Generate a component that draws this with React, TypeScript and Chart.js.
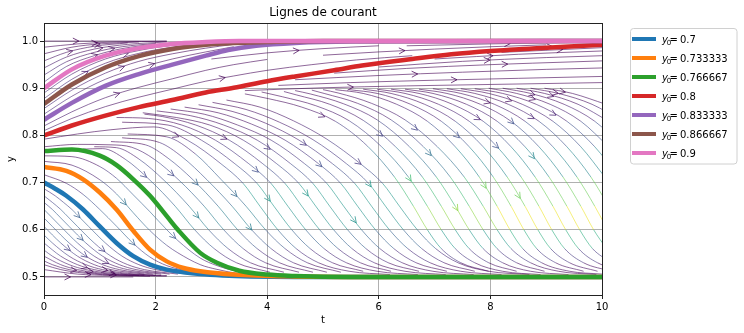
import React, { useEffect, useRef } from "react";
import { Chart, registerables } from "chart.js";

Chart.register(...registerables);

// ---------- axes / labels ----------
const xTicks = [0, 2, 4, 6, 8, 10];
const yTicks = [0.5, 0.6, 0.7, 0.8, 0.9, 1.0];
const xRange = [0, 10];
const yRange = [0.4617, 1.0383];
const titleText = "Lignes de courant";
const xLabel = "t";
const yLabel = "y";

// ---------- solution curves ----------
const initialValues = ["0.7", "0.733333", "0.766667", "0.8", "0.833333", "0.866667", "0.9"];
const curveColors = ["#1f77b4", "#ff7f0e", "#2ca02c", "#d62728", "#9467bd", "#8c564b", "#e377c2"];

const tBlue = [0, 0.2, 0.4, 0.7, 1.0, 1.3, 1.6, 1.9, 2.2, 2.5, 2.8, 3.2, 3.7, 4.5, 6, 10];
const yBlue = [0.7, 0.687, 0.672, 0.643, 0.607, 0.572, 0.544, 0.526, 0.5155, 0.51, 0.506, 0.503, 0.501, 0.5, 0.5, 0.5];
const tOrange = [0, 0.4, 0.7, 1.0, 1.3, 1.6, 1.9, 2.2, 2.5, 2.8, 3.4, 4.5, 6, 10];
const yOrange = [0.7333, 0.725, 0.707, 0.679, 0.643, 0.598, 0.558, 0.533, 0.519, 0.512, 0.505, 0.501, 0.5, 0.5];
const tGreen = [0, 0.5, 1.0, 1.3, 1.6, 1.9, 2.2, 2.4, 2.8, 3.1, 3.5, 4.0, 4.5, 5.5, 10];
const yGreen = [0.7667, 0.77, 0.757, 0.737, 0.707, 0.672, 0.629, 0.6, 0.551, 0.53, 0.513, 0.505, 0.502, 0.5, 0.5];
const tRed = [0, 0.5, 1.1, 1.7, 2.3, 2.9, 3.4, 4.0, 4.5, 5.2, 5.7, 6.6, 7.3, 8.0, 9.0, 10];
const yRed = [0.8, 0.821, 0.842, 0.86, 0.875, 0.891, 0.901, 0.915, 0.925, 0.938, 0.948, 0.962, 0.972, 0.979, 0.986, 0.992];
const tPurple = [0, 0.5, 1.1, 1.7, 2.3, 2.9, 3.3, 3.8, 4.5, 5.5, 10];
const yPurple = [0.8333, 0.869, 0.905, 0.93, 0.95, 0.969, 0.981, 0.99, 0.996, 0.999, 1.0];
const tBrown = [0, 0.5, 1.1, 1.7, 2.3, 2.9, 3.4, 4.0, 5, 10];
const yBrown = [0.8667, 0.908, 0.944, 0.968, 0.983, 0.992, 0.996, 0.998, 1.0, 1.0];
const tPink = [0, 0.5, 1.1, 1.7, 2.3, 2.9, 3.5, 5, 10];
const yPink = [0.9, 0.94, 0.969, 0.985, 0.994, 0.998, 1.0, 1.0, 1.0];

// ---------- streamlines ([t, y] points) ----------
const streamBelowBlue = [
  [[0, 0.687], [0.2, 0.672], [0.35, 0.658], [0.5, 0.643], [0.65, 0.625], [0.8, 0.607], [1.1, 0.572], [1.4, 0.544], [1.7, 0.526], [2.0, 0.5155], [2.6, 0.506]],
  [[0, 0.672], [0.15, 0.658], [0.3, 0.643], [0.45, 0.625], [0.6, 0.607], [0.9, 0.572], [1.2, 0.544], [1.5, 0.526], [1.8, 0.5155], [2.4, 0.506]],
  [[0, 0.658], [0.15, 0.643], [0.3, 0.625], [0.45, 0.607], [0.75, 0.572], [1.05, 0.544], [1.35, 0.526], [1.65, 0.5155], [2.25, 0.506]],
  [[0, 0.643], [0.15, 0.625], [0.3, 0.607], [0.6, 0.572], [0.9, 0.544], [1.2, 0.526], [1.5, 0.5155], [2.1, 0.506]],
  [[0, 0.625], [0.15, 0.607], [0.45, 0.572], [0.75, 0.544], [1.05, 0.526], [1.35, 0.5155], [1.95, 0.506]],
  [[0, 0.607], [0.3, 0.572], [0.6, 0.544], [0.9, 0.526], [1.2, 0.5155], [1.8, 0.506]],
  [[0, 0.589], [0.15, 0.572], [0.45, 0.544], [0.75, 0.526], [1.05, 0.5155], [1.65, 0.506], [2.2, 0.503]],
  [[0, 0.572], [0.3, 0.544], [0.6, 0.526], [0.9, 0.5155], [1.5, 0.506], [2.1, 0.503]],
  [[0, 0.557], [0.15, 0.544], [0.45, 0.526], [0.75, 0.5155], [1.35, 0.506], [2.0, 0.503]],
  [[0, 0.544], [0.3, 0.526], [0.6, 0.5155], [1.2, 0.506], [1.8, 0.503]],
  [[0, 0.534], [0.15, 0.526], [0.45, 0.5155], [1.05, 0.506], [1.7, 0.503]],
  [[0, 0.526], [0.3, 0.5155], [0.9, 0.506], [1.5, 0.503], [2.2, 0.5015]],
  [[0, 0.5155], [0.6, 0.506], [1.2, 0.503], [1.9, 0.5015]],
  [[0, 0.5], [1.6, 0.5]],
];

const streamBetweenCurves = [
  [[0, 0.7167], [0.4, 0.6985], [0.7, 0.675], [1.0, 0.643], [1.3, 0.6075], [1.6, 0.571], [1.9, 0.542], [2.2, 0.524], [2.5, 0.5145], [2.8, 0.509], [3.4, 0.5035]],
  [[0, 0.745], [0.5, 0.737], [1.0, 0.706], [1.3, 0.676], [1.6, 0.636], [1.9, 0.598], [2.2, 0.567], [2.4, 0.551], [2.8, 0.526], [3.1, 0.516], [3.5, 0.507], [4.0, 0.503]],
  [[0, 0.7567], [0.5, 0.755], [1.0, 0.734], [1.3, 0.709], [1.6, 0.674], [1.9, 0.638], [2.2, 0.6], [2.4, 0.577], [2.8, 0.54], [3.1, 0.524], [3.5, 0.511], [4.0, 0.504]],
];

const streamFalling = [
  [[0, 0.776], [0.6, 0.781], [1.2, 0.78], [1.57, 0.775], [1.97, 0.75], [2.42, 0.705], [2.87, 0.65], [3.22, 0.6], [3.57, 0.56], [3.97, 0.53], [4.57, 0.51]],
  [[0.7, 0.771], [1.05, 0.772], [1.45, 0.75], [1.9, 0.705], [2.35, 0.65], [2.7, 0.6], [3.05, 0.56], [3.45, 0.53], [4.05, 0.51]],
  [[0.9, 0.776], [1.3, 0.774], [1.7, 0.75], [2.15, 0.705], [2.6, 0.65], [2.95, 0.6], [3.3, 0.56], [3.7, 0.53], [4.3, 0.51]],
  [[1.2, 0.787], [1.82, 0.78], [2.22, 0.752], [2.67, 0.706], [3.12, 0.65], [3.47, 0.6], [3.82, 0.56], [4.22, 0.53], [4.82, 0.51]],
  [[1.4, 0.795], [2.07, 0.785], [2.47, 0.755], [2.92, 0.706], [3.37, 0.65], [3.72, 0.6], [4.07, 0.56], [4.47, 0.53], [5.07, 0.51]],
  [[1.5, 0.803], [2.2, 0.797], [2.72, 0.76], [3.17, 0.707], [3.62, 0.65], [3.97, 0.6], [4.32, 0.56], [4.72, 0.53], [5.32, 0.51]],
  [[0, 0.792], [0.6, 0.803], [1.2, 0.812], [1.97, 0.818], [2.57, 0.79], [3.17, 0.74], [3.57, 0.698], [3.87, 0.65], [4.19, 0.6], [4.52, 0.56], [4.92, 0.53], [5.47, 0.512], [6.2, 0.505]],
  [[1.4, 0.828], [2.22, 0.822], [2.82, 0.79], [3.42, 0.74], [3.82, 0.698], [4.12, 0.65], [4.44, 0.6], [4.77, 0.56], [5.17, 0.53], [5.72, 0.512]],
  [[1.3, 0.838], [1.87, 0.836], [2.47, 0.822], [3.07, 0.79], [3.67, 0.74], [4.07, 0.698], [4.37, 0.65], [4.69, 0.6], [5.02, 0.56], [5.42, 0.53], [5.97, 0.512], [6.7, 0.505]],
  [[1.8, 0.845], [2.12, 0.84], [2.72, 0.822], [3.32, 0.79], [3.92, 0.74], [4.32, 0.698], [4.62, 0.65], [4.94, 0.6], [5.27, 0.56], [5.67, 0.53], [6.22, 0.512]],
  [[1.77, 0.848], [2.37, 0.838], [2.97, 0.822], [3.57, 0.79], [4.17, 0.74], [4.57, 0.698], [4.87, 0.65], [5.19, 0.6], [5.52, 0.56], [5.92, 0.53], [6.47, 0.512], [7.2, 0.505]],
  [[2.02, 0.852], [2.62, 0.842], [3.22, 0.822], [3.82, 0.79], [4.42, 0.74], [4.82, 0.698], [5.12, 0.65], [5.44, 0.6], [5.77, 0.56], [6.17, 0.53], [6.72, 0.512]],
  [[2.27, 0.856], [2.87, 0.845], [3.47, 0.822], [4.07, 0.79], [4.67, 0.74], [5.07, 0.698], [5.37, 0.65], [5.69, 0.6], [6.02, 0.56], [6.42, 0.53], [6.97, 0.512], [7.7, 0.505]],
  [[2.52, 0.86], [3.12, 0.848], [3.72, 0.824], [4.32, 0.79], [4.92, 0.74], [5.32, 0.698], [5.62, 0.65], [5.94, 0.6], [6.27, 0.56], [6.67, 0.53], [7.22, 0.512]],
  [[2.77, 0.865], [3.37, 0.851], [3.97, 0.826], [4.57, 0.79], [5.17, 0.74], [5.57, 0.698], [5.87, 0.65], [6.19, 0.6], [6.52, 0.56], [6.92, 0.53], [7.47, 0.512], [8.2, 0.505]],
  [[3.02, 0.87], [3.62, 0.855], [4.22, 0.828], [4.82, 0.791], [5.42, 0.74], [5.82, 0.698], [6.12, 0.65], [6.44, 0.6], [6.77, 0.56], [7.17, 0.53], [7.72, 0.512]],
  [[3.27, 0.875], [3.87, 0.86], [4.47, 0.831], [5.07, 0.792], [5.67, 0.74], [6.07, 0.698], [6.37, 0.65], [6.69, 0.6], [7.02, 0.56], [7.42, 0.53], [7.97, 0.512], [8.7, 0.505]],
  [[3.6, 0.888], [4.02, 0.878], [4.62, 0.86], [5.22, 0.83], [5.8, 0.777], [6.28, 0.712], [6.62, 0.65], [6.87, 0.6], [7.12, 0.56], [7.47, 0.53], [7.97, 0.512]],
  [[3.9, 0.892], [4.27, 0.882], [4.87, 0.863], [5.47, 0.831], [6.05, 0.776], [6.53, 0.712], [6.87, 0.65], [7.12, 0.6], [7.37, 0.56], [7.72, 0.53], [8.22, 0.512], [8.9, 0.505]],
  [[4.3, 0.893], [4.52, 0.886], [5.12, 0.866], [5.72, 0.832], [6.3, 0.776], [6.78, 0.712], [7.12, 0.65], [7.37, 0.6], [7.62, 0.56], [7.97, 0.53], [8.47, 0.512]],
  [[4.5, 0.895], [4.77, 0.888], [5.37, 0.867], [5.97, 0.833], [6.55, 0.776], [7.03, 0.712], [7.37, 0.65], [7.62, 0.6], [7.87, 0.56], [8.22, 0.53], [8.72, 0.512], [9.4, 0.505]],
  [[4.8, 0.896], [5.02, 0.889], [5.62, 0.868], [6.22, 0.833], [6.8, 0.776], [7.28, 0.712], [7.62, 0.65], [7.87, 0.6], [8.12, 0.56], [8.47, 0.53], [8.97, 0.512]],
  [[5.0, 0.897], [5.27, 0.89], [5.87, 0.868], [6.47, 0.833], [7.05, 0.776], [7.53, 0.712], [7.87, 0.65], [8.12, 0.6], [8.37, 0.56], [8.72, 0.53], [9.22, 0.512], [9.9, 0.505]],
  [[5.22, 0.897], [5.72, 0.889], [6.32, 0.866], [6.87, 0.83], [7.37, 0.776], [7.8, 0.712], [8.12, 0.65], [8.35, 0.6], [8.58, 0.56], [8.92, 0.53], [9.42, 0.512], [10.0, 0.506]],
  [[5.47, 0.897], [5.97, 0.889], [6.57, 0.866], [7.12, 0.83], [7.62, 0.776], [8.05, 0.712], [8.37, 0.65], [8.6, 0.6], [8.83, 0.56], [9.17, 0.53], [9.67, 0.512]],
  [[5.72, 0.898], [6.22, 0.889], [6.82, 0.866], [7.37, 0.83], [7.87, 0.776], [8.3, 0.712], [8.62, 0.65], [8.85, 0.6], [9.08, 0.56], [9.42, 0.53], [9.92, 0.512]],
  [[5.97, 0.898], [6.47, 0.889], [7.07, 0.866], [7.62, 0.83], [8.12, 0.776], [8.55, 0.712], [8.87, 0.65], [9.1, 0.6], [9.33, 0.56], [9.67, 0.53], [10.17, 0.512]],
  [[6.22, 0.898], [6.72, 0.889], [7.32, 0.866], [7.87, 0.83], [8.37, 0.776], [8.8, 0.712], [9.12, 0.65], [9.35, 0.6], [9.58, 0.56], [9.92, 0.53], [10.42, 0.512]],
  [[6.47, 0.898], [6.97, 0.889], [7.57, 0.866], [8.12, 0.83], [8.62, 0.776], [9.05, 0.712], [9.37, 0.65], [9.6, 0.6], [9.83, 0.56], [10.17, 0.53]],
  [[6.72, 0.898], [7.22, 0.889], [7.82, 0.866], [8.37, 0.83], [8.87, 0.776], [9.3, 0.712], [9.62, 0.65], [9.85, 0.6], [10.08, 0.56]],
  [[6.97, 0.899], [7.47, 0.889], [8.07, 0.866], [8.62, 0.83], [9.12, 0.776], [9.55, 0.712], [9.87, 0.65], [10.1, 0.6]],
  [[7.22, 0.899], [7.72, 0.889], [8.32, 0.866], [8.87, 0.83], [9.37, 0.776], [9.8, 0.712], [10.12, 0.65]],
  [[7.47, 0.899], [7.97, 0.889], [8.57, 0.866], [9.12, 0.83], [9.62, 0.776], [10.05, 0.712]],
  [[7.72, 0.899], [8.22, 0.889], [8.82, 0.866], [9.37, 0.83], [9.87, 0.776], [10.3, 0.712]],
  [[7.97, 0.9], [8.47, 0.889], [9.07, 0.866], [9.62, 0.83], [10.12, 0.776]],
  [[8.22, 0.9], [8.72, 0.889], [9.32, 0.866], [9.87, 0.83], [10.37, 0.776]],
  [[8.47, 0.9], [8.97, 0.889], [9.57, 0.866], [10.12, 0.83]],
  [[8.72, 0.9], [9.22, 0.889], [9.82, 0.866], [10.37, 0.83]],
  [[8.97, 0.9], [9.47, 0.889], [10.07, 0.866]],
];

const streamRisingLeft = [
  [[0, 0.81], [0.5, 0.836], [1.1, 0.861], [1.7, 0.881], [2.3, 0.898], [2.9, 0.915], [3.4, 0.926], [4.0, 0.938], [4.8, 0.95], [5.6, 0.96], [6.6, 0.969]],
  [[0, 0.82], [0.5, 0.85], [1.1, 0.88], [1.7, 0.902], [2.3, 0.92], [2.9, 0.938], [3.4, 0.95], [4.0, 0.961]],
  [[0, 0.845], [0.5, 0.883], [1.1, 0.919], [1.7, 0.943], [2.3, 0.962], [2.9, 0.977], [3.4, 0.988]],
  [[0, 0.857], [0.5, 0.896], [1.1, 0.932], [1.7, 0.957], [2.3, 0.973], [2.9, 0.985], [3.4, 0.993]],
  [[0, 0.878], [0.5, 0.919], [1.1, 0.953], [1.7, 0.974], [2.3, 0.987], [2.9, 0.994]],
  [[0, 0.89], [0.5, 0.93], [1.1, 0.962], [1.7, 0.98], [2.3, 0.991], [2.9, 0.997]],
  [[0, 0.913], [0.4, 0.946], [0.9, 0.969], [1.4, 0.984], [2.0, 0.993], [2.6, 0.998]],
  [[0, 0.928], [0.4, 0.956], [0.9, 0.976], [1.4, 0.988], [2.0, 0.995]],
  [[0, 0.943], [0.4, 0.966], [0.9, 0.983], [1.5, 0.993], [2.2, 0.998]],
  [[0, 0.958], [0.4, 0.976], [0.9, 0.989], [1.5, 0.996]],
  [[0, 0.973], [0.5, 0.987], [1.0, 0.994], [1.7, 0.998]],
  [[0, 0.987], [0.6, 0.994], [1.3, 0.998], [2.2, 0.9995]],
  [[0, 1.0], [2.2, 1.0]],
];

const streamRisingMid = [
  [[3.0, 0.962], [4.0, 0.975], [5.0, 0.984], [6.0, 0.99]],
  [[5.0, 0.97], [6.0, 0.977], [7.0, 0.983], [8.0, 0.988], [9.0, 0.992]],
  [[6.5, 0.99], [8.0, 0.994], [9.5, 0.997]],
  [[8.3, 0.984], [9.2, 0.989], [10, 0.993]],
  [[3.6, 0.895], [5.0, 0.901], [6.5, 0.905], [8.0, 0.908], [10, 0.912]],
  [[4.2, 0.906], [5.5, 0.912], [7.0, 0.917], [8.5, 0.921], [10, 0.925]],
  [[4.5, 0.918], [6.0, 0.927], [7.5, 0.934], [9.0, 0.94], [10, 0.943]],
  [[5.2, 0.932], [6.5, 0.942], [8.0, 0.95], [9.5, 0.956], [10, 0.958]],
  [[6.0, 0.945], [7.5, 0.957], [9.0, 0.965], [10, 0.969]],
  [[7.0, 0.962], [8.5, 0.972], [10, 0.979]],
  [[8.2, 0.976], [10, 0.986]],
];

// ---------- styling helpers ----------
const VIRIDIS = [
  [68, 1, 84], [72, 40, 120], [62, 73, 137], [49, 104, 142], [38, 130, 142],
  [31, 158, 137], [53, 183, 121], [110, 206, 88], [181, 222, 43], [253, 231, 37],
];
function viridis(v: number) {
  const c = Math.max(0, Math.min(1, v)) * (VIRIDIS.length - 1);
  const i = Math.min(VIRIDIS.length - 2, Math.floor(c));
  const f = c - i;
  const a = VIRIDIS[i], b = VIRIDIS[i + 1];
  return [0, 1, 2].map((k) => Math.round(a[k] + (b[k] - a[k]) * f));
}
function speedColor(slope: number, alpha = 0.6) {
  const v = Math.min(1, Math.pow(Math.abs(slope) / 0.22, 2));
  const [r, g, b] = viridis(v);
  return `rgba(${r},${g},${b},${alpha})`;
}

const FONT = "'DejaVu Sans', sans-serif";

export default function App() {
  const ref = useRef<HTMLCanvasElement | null>(null);

  useEffect(() => {
    document.body.style.margin = "0";
    const canvas = ref.current;
    if (!canvas) return;

    const curves = [
      [tBlue, yBlue], [tOrange, yOrange], [tGreen, yGreen], [tRed, yRed],
      [tPurple, yPurple], [tBrown, yBrown], [tPink, yPink],
    ];
    const mainSets = curves.map(([ts, ys], i) => ({
      label: "y0 = " + initialValues[i],
      data: ts.map((t, j) => ({ x: t, y: ys[j] })),
      borderColor: curveColors[i],
      borderWidth: 4.5,
      pointRadius: 0,
      cubicInterpolationMode: "monotone" as const,
      fill: false,
      order: 6 - i,
    }));

    const streams = [
      ...streamBelowBlue, ...streamBetweenCurves, ...streamFalling,
      ...streamRisingLeft, ...streamRisingMid,
    ];
    const streamSets = streams.map((pts) => ({
      label: "",
      data: pts.map(([x, y]) => ({ x, y })),
      borderWidth: 1,
      borderColor: speedColor((pts[1][1] - pts[0][1]) / (pts[1][0] - pts[0][0] || 1)),
      segment: {
        borderColor: (ctx: any) => {
          const a = ctx.p0.parsed, b = ctx.p1.parsed;
          return speedColor((b.y - a.y) / (b.x - a.x || 1e-9));
        },
      },
      pointRadius: 0,
      cubicInterpolationMode: "monotone" as const,
      fill: false,
      order: 100,
    }));

    const decor = {
      id: "decor",
      beforeDatasetDraw(chart: any, args: any) {
        if (args.index !== 0) return;
        // arrows along each streamline
        const { ctx, chartArea: ca } = chart;
        const xs = chart.scales.x, ys = chart.scales.y;
        ctx.save();
        ctx.beginPath();
        ctx.rect(ca.left, ca.top, ca.right - ca.left, ca.bottom - ca.top);
        ctx.clip();
        streams.forEach((pts, idx) => {
          const vis = pts.filter((p) => p[0] <= xRange[1]);
          if (vis.length < 2) return;
          const px = vis.map((p) => [xs.getPixelForValue(p[0]), ys.getPixelForValue(p[1])]);
          const lens: number[] = [];
          let total = 0;
          for (let i = 1; i < px.length; i++) {
            const l = Math.hypot(px[i][0] - px[i - 1][0], px[i][1] - px[i - 1][1]);
            lens.push(l);
            total += l;
          }
          if (total < 12) return;
          const frac = 0.25 + 0.4 * ((idx * 0.618) % 1);
          let half = total * frac;
          let k = 0;
          while (k < lens.length - 1 && half > lens[k]) { half -= lens[k]; k++; }
          const f = lens[k] ? half / lens[k] : 0;
          const x = px[k][0] + (px[k + 1][0] - px[k][0]) * f;
          const y = px[k][1] + (px[k + 1][1] - px[k][1]) * f;
          const dx = (px[k + 1][0] - px[k][0]) / (lens[k] || 1);
          const dy = (px[k + 1][1] - px[k][1]) / (lens[k] || 1);
          const slope = (vis[k + 1][1] - vis[k][1]) / (vis[k + 1][0] - vis[k][0] || 1);
          const tipX = x + dx * 3, tipY = y + dy * 3;
          const L = 6, W = 3;
          ctx.strokeStyle = speedColor(slope, 0.75);
          ctx.lineWidth = 1;
          ctx.beginPath();
          ctx.moveTo(tipX - dx * L - dy * W, tipY - dy * L + dx * W);
          ctx.lineTo(tipX, tipY);
          ctx.lineTo(tipX - dx * L + dy * W, tipY - dy * L - dx * W);
          ctx.stroke();
        });
        ctx.restore();
      },
      afterDatasetsDraw(chart: any) {
        const { ctx, chartArea: ca } = chart;
        ctx.save();
        ctx.strokeStyle = "#222";
        ctx.lineWidth = 1;
        ctx.strokeRect(Math.round(ca.left) + 0.5, Math.round(ca.top) + 0.5,
          Math.round(ca.right - ca.left), Math.round(ca.bottom - ca.top));
        ctx.restore();
      },
      afterDraw(chart: any) {
        const { ctx, chartArea: ca } = chart;
        ctx.save();
        ctx.fillStyle = "#000";
        // title
        ctx.font = `12px ${FONT}`;
        ctx.textAlign = "center";
        ctx.textBaseline = "alphabetic";
        ctx.fillText(titleText, (ca.left + ca.right) / 2, 16);
        // axis labels
        ctx.font = `10px ${FONT}`;
        ctx.fillText(xLabel, (ca.left + ca.right) / 2, 323);
        ctx.save();
        ctx.translate(14, (ca.top + ca.bottom) / 2);
        ctx.rotate(-Math.PI / 2);
        ctx.fillText(yLabel, 0, 0);
        ctx.restore();

        // legend
        const lx = 630.5, ly = 28.5, lw = 106.5, lh = 135.5;
        ctx.beginPath();
        if ((ctx as any).roundRect) (ctx as any).roundRect(lx, ly, lw, lh, 3);
        else ctx.rect(lx, ly, lw, lh);
        ctx.fillStyle = "rgba(255,255,255,0.85)";
        ctx.fill();
        ctx.strokeStyle = "#d0d0d0";
        ctx.lineWidth = 1;
        ctx.stroke();
        ctx.textAlign = "left";
        initialValues.forEach((v, i) => {
          const cy = 39 + i * 19;
          ctx.strokeStyle = curveColors[i];
          ctx.lineWidth = 4;
          ctx.beginPath();
          ctx.moveTo(632, cy);
          ctx.lineTo(656, cy);
          ctx.stroke();
          ctx.fillStyle = "#000";
          ctx.font = `italic 10px ${FONT}`;
          ctx.fillText("y", 662, cy + 4);
          ctx.font = `7px ${FONT}`;
          ctx.fillText("0", 666.8, cy + 5.5);
          ctx.font = `10px ${FONT}`;
          ctx.fillText("=", 669.6, cy + 4);
          ctx.fillText(v, 680, cy + 4);
        });
        ctx.restore();
      },
    };

    const chart = new Chart(canvas, {
      type: "line",
      data: { datasets: [...mainSets, ...streamSets] as any },
      options: {
        animation: false,
        responsive: false,
        devicePixelRatio: 1,
        parsing: false,
        events: [],
        layout: { padding: { top: 23, right: 142, left: 0, bottom: 0 } },
        plugins: {
          legend: { display: false },
          tooltip: { enabled: false },
          title: { display: false },
        },
        scales: {
          x: {
            type: "linear",
            min: xRange[0],
            max: xRange[1],
            afterBuildTicks: (s: any) => { s.ticks = xTicks.map((v) => ({ value: v })); },
            afterFit: (s: any) => { s.height = 38; },
            grid: { color: "#b0b0b0", lineWidth: 1, tickLength: 4, tickColor: "#222", drawTicks: true },
            border: { display: false },
            ticks: {
              color: "#000",
              font: { size: 10, family: FONT },
              padding: 2,
              maxRotation: 0,
              autoSkip: false,
              callback: (v: any) => String(v),
            },
          },
          y: {
            type: "linear",
            min: yRange[0],
            max: yRange[1],
            afterBuildTicks: (s: any) => { s.ticks = yTicks.map((v) => ({ value: v })); },
            afterFit: (s: any) => { s.width = 44; },
            grid: { color: "#b0b0b0", lineWidth: 1, tickLength: 4, tickColor: "#222", drawTicks: true },
            border: { display: false },
            ticks: {
              color: "#000",
              font: { size: 10, family: FONT },
              padding: 2,
              autoSkip: false,
              callback: (v: any) => Number(v).toFixed(1),
            },
          },
        },
      } as any,
      plugins: [decor],
    });
    return () => chart.destroy();
  }, []);

  return (
    <div style={{ width: 744, height: 333 }}>
      <canvas ref={ref} width={744} height={333} style={{ display: "block" }} />
    </div>
  );
}
